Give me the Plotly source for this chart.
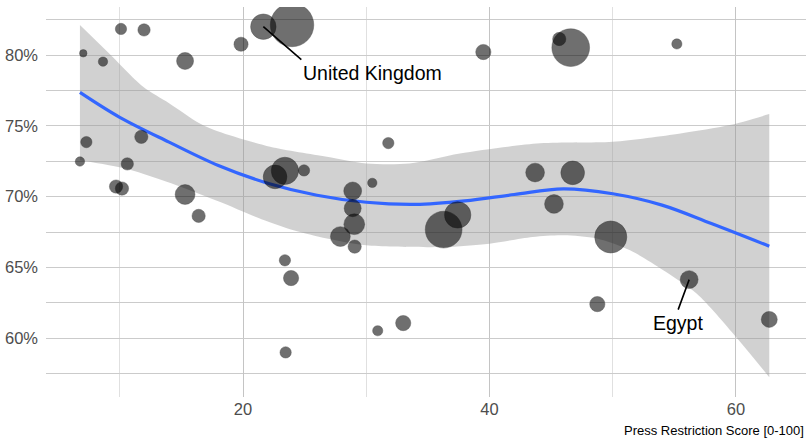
import plotly.graph_objects as go

# ---- data ----
press_score = [10.1, 11.97, 7.04, 8.64, 15.3, 19.84, 21.65, 23.98, 7.29, 6.77,
               11.75, 10.61, 9.7, 10.18, 15.3, 16.4, 22.6, 23.4, 24.95, 31.79,
               30.49, 28.9, 28.9, 29.03, 27.9, 29.06, 36.28, 37.42, 39.5, 43.7,
               46.75, 45.23, 45.66, 46.59, 55.2, 49.84, 56.2, 48.75, 62.7, 23.4,
               23.9, 30.93, 33.0, 23.46]
share_pct = [81.84, 81.77, 80.12, 79.53, 79.58, 80.76, 82.0, 82.12, 73.85, 72.48,
             74.22, 72.31, 70.71, 70.57, 70.15, 68.64, 71.39, 71.82, 71.85, 73.78,
             70.97, 70.4, 69.18, 68.05, 67.18, 66.47, 67.67, 68.71, 80.21, 71.7,
             71.68, 69.48, 81.13, 80.52, 80.78, 67.15, 64.14, 62.41, 61.33, 65.5,
             64.25, 60.53, 61.07, 59.0]
weight = [16, 19, 7, 11, 36, 25, 81, 236, 16, 11,
          22, 19, 22, 22, 49, 22, 70, 93, 16, 16,
          11, 40, 36, 54, 49, 22, 169, 87, 29, 44,
          70, 44, 22, 178, 13, 129, 40, 29, 32, 16,
          29, 13, 29, 16]
country = [""] * len(press_score)
country[6] = "United Kingdom"
country[36] = "Egypt"

smooth_x = [6.77, 10, 14, 18, 22, 26, 30, 34, 38, 42, 46, 50, 54, 58, 62.7]
smooth_y = [77.36, 75.6, 73.85, 72.2, 70.95, 70.1, 69.6, 69.45, 69.7, 70.15,
            70.55, 70.2, 69.4, 68.1, 66.5]

upper_x = [6.77, 9, 11.9, 14, 16.5, 18, 22.2, 26.8, 30, 33.5, 37.6, 44.1, 50,
           55.5, 59.5, 62.7]
upper_y = [82.12, 80.23, 77.76, 76.6, 75.17, 74.6, 73.52, 72.81, 72.34, 72.34,
           73.05, 73.76, 73.87, 74.46, 75.05, 75.83]
lower_x = [6.77, 10.6, 14.6, 18.1, 21.5, 24.1, 26.8, 30, 36.2, 40, 43.5, 46,
           48.7, 51.4, 54.1, 56.8, 60, 62.7]
lower_y = [72.57, 71.95, 70.81, 69.63, 68.4, 67.62, 67.04, 66.56, 66.44, 66.68,
           67.15, 67.27, 67.04, 66.21, 64.8, 63.15, 60.09, 57.25]

x_major = [20, 40, 60]
x_minor = [10, 30, 50]
y_major = [60, 65, 70, 75, 80]
y_minor = [57.5, 62.5, 67.5, 72.5, 77.5, 82.5]

FONT = "Liberation Sans, Arial, sans-serif"

fig = go.Figure()

# confidence band: lower edge, then upper edge filled down to it
fig.add_trace(go.Scatter(x=lower_x, y=lower_y, mode="lines",
                         line=dict(width=0, shape="spline", smoothing=0.8),
                         hoverinfo="skip", showlegend=False))
fig.add_trace(go.Scatter(x=upper_x, y=upper_y, mode="lines", fill="tonexty",
                         fillcolor="rgba(153,153,153,0.45)",
                         line=dict(width=0, shape="spline", smoothing=0.8),
                         hoverinfo="skip", showlegend=False))

fig.add_trace(go.Scatter(x=smooth_x, y=smooth_y, mode="lines",
                         line=dict(color="#3366FF", width=3.2, shape="spline",
                                   smoothing=1.0),
                         hoverinfo="skip", showlegend=False))

fig.add_trace(go.Scatter(x=press_score, y=share_pct, mode="markers",
                         text=country,
                         marker=dict(size=weight, sizemode="area", sizeref=0.25,
                                     color="rgba(0,0,0,0.8)",
                                     line=dict(color="rgba(0,0,0,0.6)", width=0.7)),
                         showlegend=False))

for name, ax, ay, xa, ya in [("United Kingdom", 38, 33, "left", "top"),
                             ("Egypt", -11, 30, "center", "top")]:
    i = country.index(name)
    fig.add_annotation(x=press_score[i], y=share_pct[i], text=name,
                       showarrow=True, arrowhead=0, arrowwidth=1.6,
                       arrowcolor="black", standoff=0, ax=ax, ay=ay,
                       xanchor=xa, yanchor=ya,
                       font=dict(family=FONT, size=19.5, color="black"))

fig.add_annotation(x=1, y=0, xref="paper", yref="paper", xanchor="right",
                   yanchor="top", yshift=-24, showarrow=False,
                   text="Press Restriction Score [0-100]",
                   font=dict(family=FONT, size=13, color="black"))

fig.update_xaxes(range=[4.016, 65.68], tickvals=x_major,
                 ticktext=[str(v) for v in x_major], automargin=False,
                 showgrid=True, gridcolor="#c4c4c4", gridwidth=1.3,
                 minor=dict(tickvals=x_minor, showgrid=True, gridcolor="#e0e0e0",
                            gridwidth=1.3),
                 zeroline=False, showline=False, ticks="",
                 tickfont=dict(family=FONT, size=16.5, color="#4d4d4d"))
fig.update_yaxes(range=[55.85, 83.39], tickvals=y_major,
                 ticktext=[f"{v}%" for v in y_major], automargin=False,
                 ticklabelstandoff=7,
                 showgrid=True, gridcolor="#cbcbcb", gridwidth=1.3,
                 minor=dict(tickvals=y_minor, showgrid=True, gridcolor="#cbcbcb",
                            gridwidth=1.3),
                 zeroline=False, showline=False, ticks="",
                 tickfont=dict(family=FONT, size=16.5, color="#4d4d4d"))

fig.update_layout(width=806, height=439, plot_bgcolor="white",
                  paper_bgcolor="white",
                  margin=dict(l=46, r=0, t=7, b=42),
                  font=dict(family=FONT))

fig.write_html("out.html", config={"displayModeBar": False},
               post_script="document.body.style.margin='0px';"
                           "document.body.style.overflow='hidden';")
